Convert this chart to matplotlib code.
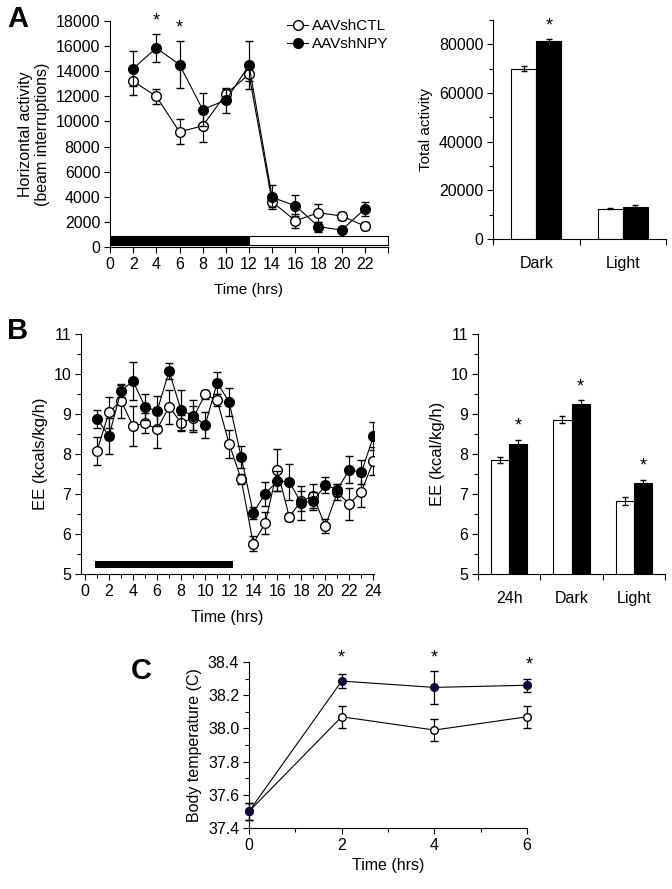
import numpy as np
import matplotlib
matplotlib.use("Agg")
from matplotlib import pyplot as plt
from matplotlib.lines import Line2D
from matplotlib.ticker import MultipleLocator

plt.rcParams['font.family'] = ['Liberation Sans', 'DejaVu Sans']
plt.rcParams['font.size'] = 11.5

# panel A: horizontal activity
a_hours = [2, 4, 6, 8, 10, 12, 14, 16, 18, 20, 22]
a_ctl = [13200, 12000, 9170, 9650, 12170, 13760, 3600, 2090, 2730, 2470, 1670]
a_ctl_err = [1100, 600, 1000, 1300, 450, 500, 450, 550, 700, 300, 350]
a_npy = [14210, 15850, 14530, 10950, 11690, 14470, 3950, 3290, 1620, 1350, 3030]
a_npy_err = [1400, 1100, 1900, 1350, 1000, 1900, 950, 850, 400, 200, 550]
a_star_hours = [4, 6]

a_cats = ['Dark', 'Light']
a_tot_ctl = [70000, 12500]
a_tot_ctl_err = [900, 300]
a_tot_npy = [81500, 13300]
a_tot_npy_err = [700, 500]

# panel B: energy expenditure
b_hours = list(range(1, 25))
b_npy = [8.88, 8.45, 9.58, 9.82, 9.18, 9.07, 10.07, 9.09, 8.96, 8.72, 9.78, 9.30,
         7.92, 6.53, 7.01, 7.32, 7.31, 6.77, 6.83, 7.22, 7.11, 7.61, 7.54, 8.44]
b_npy_err = [0.22, 0.45, 0.15, 0.47, 0.32, 0.38, 0.2, 0.5, 0.4, 0.32, 0.27, 0.36,
             0.28, 0.15, 0.3, 0.25, 0.45, 0.42, 0.22, 0.2, 0.15, 0.33, 0.3, 0.35]
b_ctl = [8.08, 9.04, 9.33, 8.70, 8.77, 8.62, 9.18, 8.78, 8.90, 9.49, 9.34, 8.25,
         7.37, 5.76, 6.27, 7.60, 6.43, 6.83, 6.94, 6.20, 7.04, 6.75, 7.06, 7.82]
b_ctl_err = [0.35, 0.38, 0.42, 0.5, 0.25, 0.47, 0.42, 0.2, 0.3, 0.12, 0.15, 0.35,
             0.12, 0.18, 0.27, 0.52, 0.1, 0.25, 0.3, 0.18, 0.2, 0.4, 0.38, 0.35]

b_cats = ['24h', 'Dark', 'Light']
b_bar_ctl = [7.85, 8.86, 6.83]
b_bar_ctl_err = [0.08, 0.08, 0.1]
b_bar_npy = [8.26, 9.25, 7.28]
b_bar_npy_err = [0.1, 0.1, 0.08]

# panel C: body temperature
c_hours = [0, 2, 4, 6]
c_ctl = [37.50, 38.07, 37.99, 38.07]
c_ctl_err = [0.05, 0.065, 0.065, 0.065]
c_npy = [37.50, 38.285, 38.247, 38.26]
c_npy_err = [0.05, 0.04, 0.1, 0.04]

W, H = 672, 889
fig = plt.figure(figsize=(W / 100, H / 100), dpi=100)


def box(x0, x1, ytop, ybot):
    return [x0 / W, 1 - ybot / H, (x1 - x0) / W, (ybot - ytop) / H]


def style(ax):
    ax.spines['top'].set_visible(False)
    ax.spines['right'].set_visible(False)
    ax.tick_params(direction='out', length=4, width=0.8, pad=3)
    ax.tick_params(which='minor', direction='out', length=3, width=0.8)


def lines(ax, x, ctl, ctl_err, npy, npy_err, ms=7, npy_color='black', lw=0.8):
    ax.errorbar(x, ctl, yerr=ctl_err, color='black', lw=lw, marker='o', ms=ms,
                mfc='white', mec='black', capsize=3, elinewidth=0.9, zorder=3)
    ax.errorbar(x, npy, yerr=npy_err, color='black', lw=lw, marker='o', ms=ms,
                mfc=npy_color, mec=npy_color, capsize=3, elinewidth=0.9, zorder=4)


def bars(ax, ctl, ctl_err, npy, npy_err, cats):
    x = np.arange(len(cats)) + 0.5
    w = 0.29
    ax.bar(x - w / 2, ctl, w, yerr=ctl_err, color='white', edgecolor='black',
           lw=0.8, capsize=2.5, error_kw=dict(elinewidth=0.8))
    ax.bar(x + w / 2, npy, w, yerr=npy_err, color='black', edgecolor='black',
           lw=0.8, capsize=2.5, error_kw=dict(elinewidth=0.8))
    ax.set_xlim(0, len(cats))
    ax.set_xticks(np.arange(len(cats) + 1))
    ax.set_xticklabels([''] * (len(cats) + 1))
    ax.set_xticks(x, minor=True)
    ax.set_xticklabels(cats, minor=True)
    ax.tick_params(axis='x', which='minor', length=0, pad=12)
    return x + w / 2


# ---- A left
ax = fig.add_axes(box(110, 388, 21, 247))
style(ax)
lines(ax, a_hours, a_ctl, a_ctl_err, a_npy, a_npy_err)
ax.broken_barh([(0, 12)], (160, 715), facecolors='black', edgecolors='black', lw=0.8)
ax.broken_barh([(12, 12)], (160, 715), facecolors='white', edgecolors='black', lw=0.8)
ax.set_xlim(0, 24)
ax.set_ylim(0, 18000)
ax.set_xticks(range(0, 25, 2))
ax.set_xticklabels([str(h) for h in range(0, 23, 2)] + [''])
ax.set_yticks(range(0, 18001, 2000))
for h in a_star_hours:
    i = a_hours.index(h)
    ax.text(h, a_npy[i] + a_npy_err[i] + 350, '*', ha='center', va='bottom', fontsize=13)
ax.set_xlabel('Time (hrs)', labelpad=8, fontsize=11)
ax.set_ylabel('Horizontal activity\n(beam interruptions)', fontsize=11.5)
handles = [Line2D([], [], color='black', lw=0.8, marker='o', ms=7, mfc='white', mec='black'),
           Line2D([], [], color='black', lw=0.8, marker='o', ms=7, mfc='black', mec='black')]
ax.legend(handles, ['AAVshCTL', 'AAVshNPY'], loc='upper left',
          bbox_to_anchor=(0.615, 1.035), frameon=False, handlelength=1.4,
          handletextpad=0.2, borderaxespad=0, labelspacing=0.25, fontsize=11)
fig.text(7 / W, 1 - 19 / H, 'A', fontsize=21, fontweight='bold', va='center', ha='left')

# ---- A right
ax = fig.add_axes(box(493, 666, 20, 239))
style(ax)
xb = bars(ax, a_tot_ctl, a_tot_ctl_err, a_tot_npy, a_tot_npy_err, a_cats)
ax.set_ylim(0, 90000)
ax.set_yticks(range(0, 80001, 20000))
ax.yaxis.set_minor_locator(MultipleLocator(10000))
ax.text(xb[0], a_tot_npy[0] + 2500, '*', ha='center', va='bottom', fontsize=13)
ax.set_ylabel('Total activity', fontsize=11)

# ---- B left
ax = fig.add_axes(box(81, 374, 334, 574))
style(ax)
lines(ax, b_hours, b_ctl, b_ctl_err, b_npy, b_npy_err)
ax.broken_barh([(0.83, 11.5)], (5.14, 0.18), facecolors='black')
ax.set_xlim(-0.33, 24.05)
ax.set_ylim(5, 11)
ax.set_xticks(range(0, 25, 2))
ax.xaxis.set_minor_locator(MultipleLocator(1))
ax.yaxis.set_minor_locator(MultipleLocator(0.5))
ax.set_xlabel('Time (hrs)', labelpad=8, fontsize=11.5)
ax.set_ylabel('EE (kcals/kg/h)', fontsize=12)
fig.text(7 / W, 1 - 331 / H, 'B', fontsize=21, fontweight='bold', va='center', ha='left')

# ---- B right
ax = fig.add_axes(box(478, 665, 334, 574))
style(ax)
xb = bars(ax, b_bar_ctl, b_bar_ctl_err, b_bar_npy, b_bar_npy_err, b_cats)
ax.set_ylim(5, 11)
ax.yaxis.set_minor_locator(MultipleLocator(0.5))
for i in range(len(b_cats)):
    ax.text(xb[i], b_bar_npy[i] + b_bar_npy_err[i] + 0.12, '*', ha='center',
            va='bottom', fontsize=13)
ax.set_ylabel('EE (kcal/kg/h)', fontsize=12)

# ---- C
ax = fig.add_axes(box(249, 527, 662, 828))
style(ax)
lines(ax, c_hours, c_ctl, c_ctl_err, c_npy, c_npy_err, ms=5.5, npy_color='#0b0b3c')
ax.set_xlim(0, 6)
ax.set_ylim(37.4, 38.4)
ax.set_xticks(c_hours)
ax.xaxis.set_minor_locator(MultipleLocator(1))
ax.set_yticks(np.arange(37.4, 38.41, 0.2))
ax.set_yticklabels(['%.1f' % v for v in np.arange(37.4, 38.41, 0.2)])
ax.yaxis.set_minor_locator(MultipleLocator(0.1))
ax.tick_params(labelsize=11.5)
for h, dx, y in zip(c_hours[1:], [0, 0, 0.04], [38.37, 38.37, 38.33]):
    ax.text(h + dx, y, '*', ha='center', va='bottom', fontsize=13)
ax.set_xlabel('Time (hrs)', fontsize=11.5)
ax.set_ylabel('Body temperature (C)', fontsize=11.5)
for t in ax.get_children():
    if hasattr(t, 'set_clip_on'):
        t.set_clip_on(False)
fig.text(131 / W, 1 - 671 / H, 'C', fontsize=21, fontweight='bold', va='center', ha='left')

fig.savefig('out.png', dpi=100)
